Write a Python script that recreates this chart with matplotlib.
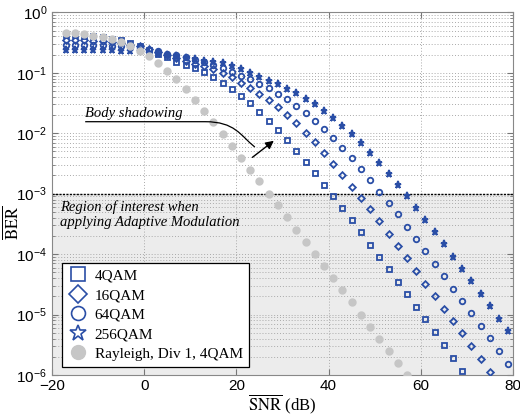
import numpy as np
import matplotlib
matplotlib.use('Agg')
import matplotlib.pyplot as plt
from matplotlib.lines import Line2D
from matplotlib.path import Path
from matplotlib.patches import PathPatch

plt.rcParams['font.family'] = ['Liberation Sans', 'DejaVu Sans']
plt.rcParams['mathtext.fontset'] = 'stix'

blue = '#2a4ea6'
grey = '#c6c6c6'

# SNR sample points (dB)
snr = [-17, -15, -13, -11, -9, -7, -5, -3, -1, 1, 3, 5, 7, 9, 11, 13, 15, 17, 19, 21,
       23, 25, 27, 29, 31, 33, 35, 37, 39, 41, 43, 45, 47, 49, 51, 53, 55, 57, 59, 61,
       63, 65, 67, 69, 71, 73, 75, 77, 79]

ber_4qam = [0.421, 0.419, 0.413, 0.404, 0.39, 0.368, 0.343, 0.31, 0.277, 0.238, 0.204,
            0.179, 0.153, 0.134, 0.118, 0.102, 0.086, 0.0669, 0.0532, 0.0417, 0.0312,
            0.0227, 0.0161, 0.0113, 0.00772, 0.00513, 0.00338, 0.00217, 0.00139, 9.1e-4,
            5.8e-4, 3.6e-4, 2.3e-4, 1.42e-4, 8.9e-5, 5.6e-5, 3.4e-5, 2.16e-5, 1.35e-5,
            8.3e-6, 5.2e-6, 3.1e-6, 1.93e-6, 1.16e-6]

ber_16qam = [0.348, 0.348, 0.344, 0.339, 0.331, 0.323, 0.311, 0.293, 0.272, 0.247, 0.22,
             0.197, 0.175, 0.156, 0.142, 0.129, 0.115, 0.098, 0.084, 0.0684, 0.0566,
             0.045, 0.0354, 0.0268, 0.02, 0.0146, 0.0102, 0.00702, 0.0047, 0.00312,
             0.00202, 0.0013, 8.6e-4, 5.5e-4, 3.5e-4, 2.18e-4, 1.35e-4, 8.5e-5, 5.2e-5,
             3.24e-5, 2.03e-5, 1.25e-5, 7.8e-6, 4.95e-6, 3.0e-6, 1.86e-6, 1.12e-6]

ber_64qam = [0.293, 0.293, 0.291, 0.288, 0.285, 0.279, 0.274, 0.267, 0.257, 0.242, 0.225,
             0.208, 0.193, 0.179, 0.1625, 0.148, 0.133, 0.1185, 0.104, 0.0894, 0.0779,
             0.0651, 0.0553, 0.045, 0.0364, 0.0282, 0.0218, 0.0161, 0.01174, 0.00823,
             0.0058, 0.00389, 0.00253, 0.00167, 0.00108, 7.1e-4, 4.55e-4, 2.84e-4, 1.8e-4,
             1.13e-4, 6.9e-5, 4.34e-5, 2.68e-5, 1.66e-5, 1.06e-5, 6.5e-6, 4.05e-6,
             2.52e-6, 1.54e-6]

ber_256qam = [0.238, 0.238, 0.238, 0.237, 0.236, 0.235, 0.233, 0.229, 0.225, 0.216, 0.208,
              0.197, 0.186, 0.175, 0.166, 0.156, 0.149, 0.143, 0.129, 0.114, 0.098, 0.086,
              0.0739, 0.0644, 0.0538, 0.0457, 0.0368, 0.0301, 0.0233, 0.018, 0.0132,
              0.0097, 0.0068, 0.00465, 0.00318, 0.00211, 0.00139, 9.1e-4, 5.85e-4, 3.7e-4,
              2.32e-4, 1.45e-4, 9.06e-5, 5.67e-5, 3.59e-5, 2.21e-5, 1.38e-5, 8.5e-6, 5.4e-6]

ber_rayleigh = [0.45, 0.45, 0.438, 0.41, 0.39, 0.362, 0.323, 0.277, 0.229, 0.19, 0.147,
                0.108, 0.078, 0.053, 0.035, 0.023, 0.0153, 0.0097, 0.0062, 0.0039, 0.0025,
                0.0016, 0.001, 6.5e-4, 4.1e-4, 2.5e-4, 1.6e-4, 1.02e-4, 6.3e-5, 4.0e-5,
                2.5e-5, 1.6e-5, 1.0e-5, 6.3e-6, 4.0e-6, 2.5e-6, 1.6e-6, 1.0e-6]

labels = ['4QAM', '16QAM', '64QAM', '256QAM', 'Rayleigh, Div 1, 4QAM']

fig = plt.figure(figsize=(5.2, 4.16), dpi=100)
ax = fig.add_axes([0.1, 0.0986, 0.8865, 0.8718])
ax.set_yscale('log')
ax.set_xlim(-20, 80)
ax.set_ylim(1e-6, 1)

# shaded region of interest + threshold line
ax.axhspan(1e-6, 1e-3, color='#ececec', zorder=0)
ax.axhline(1e-3, color='k', lw=1.0, ls=(0, (1.5, 1)), zorder=1)

ax.grid(True, which='major', axis='both', color='#aaaaaa', ls=(0, (1, 2)), lw=0.7)
ax.grid(True, which='minor', axis='y', color='#aaaaaa', ls=(0, (1, 2)), lw=0.7)
ax.set_axisbelow(True)

series = [ber_4qam, ber_16qam, ber_64qam, ber_256qam]
markers = ['s', 'D', 'o', '*']
sizes = [3.6, 3.4, 4.0, 5.2]
for vals, m, ms in zip(series, markers, sizes):
    ax.plot(snr[:len(vals)], vals, ls='none', marker=m, ms=ms, mfc='none',
            mec=blue, mew=1.3, zorder=3)
ax.plot(snr[:len(ber_rayleigh)], ber_rayleigh, ls='none', marker='o', ms=5.0,
        mfc=grey, mec=grey, zorder=4)

ax.set_xticks([-20, 0, 20, 40, 60, 80])
ax.tick_params(which='both', direction='in', top=True, right=True, color='#777777',
               labelsize=11)
ax.tick_params(which='major', length=4)
ax.tick_params(which='minor', length=2)
ax.tick_params(axis='x', pad=3)
for s in ax.spines.values():
    s.set_color('#888888')

ax.set_xlabel(r'$\overline{\mathrm{SNR}}$ (dB)', fontsize=12, family='Liberation Serif',
              labelpad=0)
ax.set_ylabel(r'$\overline{\mathrm{BER}}$', fontsize=12, labelpad=2)
ax.yaxis.set_label_coords(-0.068, 0.42)

# annotations
ax.text(-12.8, 0.0208, 'Body shadowing', fontsize=10.5, family='Liberation Serif',
        style='italic', ha='left', va='center')
verts = [(-12.8, 0.0155), (13.2, 0.0155), (19.7, 0.0155), (20.8, 0.0093), (24.0, 0.0059)]
codes = [Path.MOVETO, Path.LINETO, Path.CURVE4, Path.CURVE4, Path.CURVE4]
ax.add_patch(PathPatch(Path(verts, codes), fc='none', ec='k', lw=0.9, zorder=5))
ax.annotate('', xy=(28.6, 0.0080), xytext=(23.0, 0.00374),
            arrowprops=dict(arrowstyle='-|>', color='k', lw=1.0, mutation_scale=12),
            zorder=5)
ax.text(-18.2, 7.7e-4, 'Region of interest when\napplying Adaptive Modulation',
        fontsize=10.5, family='Liberation Serif', style='italic', ha='left', va='top')

handles = [Line2D([], [], ls='none', marker=m, ms=ms, mfc='none', mec=blue, mew=1.2)
           for m, ms in zip(markers, [10, 9, 10, 12])]
handles.append(Line2D([], [], ls='none', marker='o', ms=10, mfc=grey, mec=grey))
leg = ax.legend(handles, labels, loc='lower left', bbox_to_anchor=(0.021, 0.023),
                borderaxespad=0, fancybox=False, framealpha=1, edgecolor='k',
                prop={'family': 'Liberation Serif', 'size': 11}, labelspacing=0.38,
                handlelength=1.3, handletextpad=0.45, borderpad=0.4)
leg.get_frame().set_linewidth(0.9)
leg.set_zorder(6)

plt.savefig('out.png', dpi=100)
